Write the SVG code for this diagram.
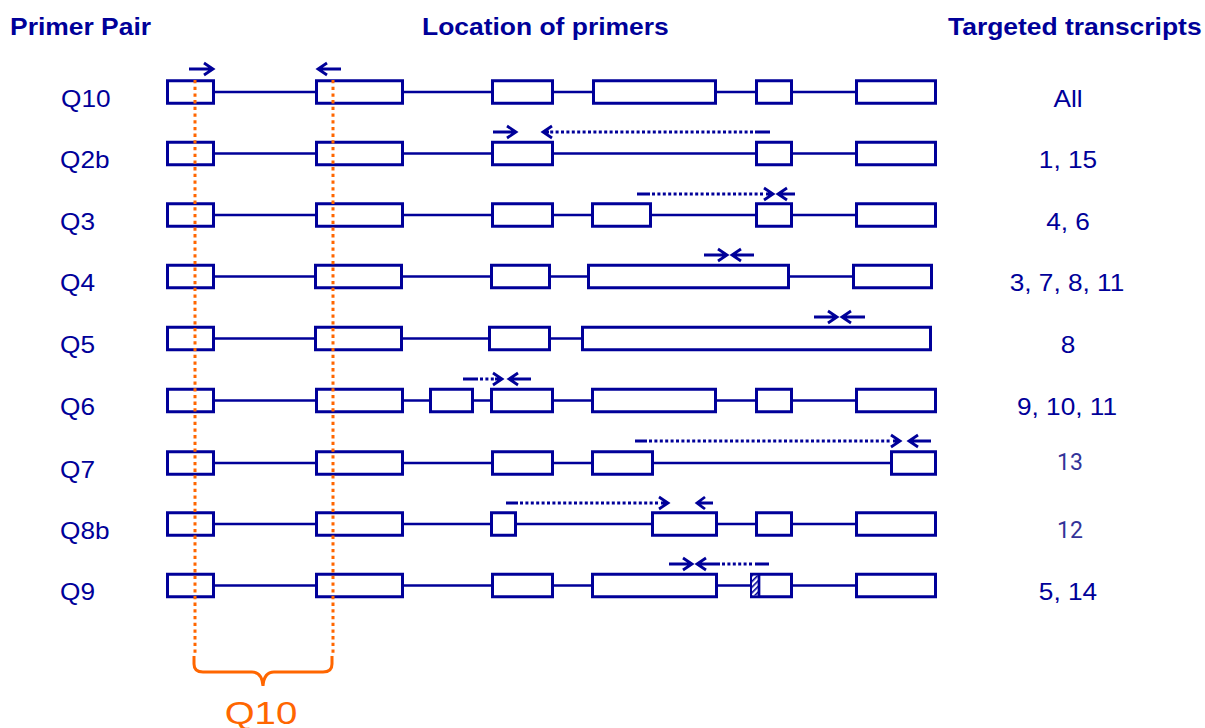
<svg xmlns="http://www.w3.org/2000/svg" width="1205" height="728" viewBox="0 0 1205 728">
  <defs>
    <style>
      .exon { fill: #ffffff; stroke: #000099; stroke-width: 3; }
      .intron { fill: none; stroke: #000099; stroke-width: 2.7; }
      .primer { fill: none; stroke: #000099; stroke-width: 2.8; }
      .dots { fill: none; stroke: #000099; stroke-width: 2.8; stroke-dasharray: 3 2.4; }
      .lbl { font-family: "Liberation Sans", Arial, sans-serif; font-size: 23px; fill: #000099; }
      .hdr { font-weight: bold; }
      .num { font-family: Roboto, "Liberation Sans", sans-serif; font-size: 23px; fill: #333399; }
      .span { fill: none; stroke: #ff6600; stroke-width: 3; }
      .guide { fill: none; stroke: #ff6600; stroke-width: 3; stroke-dasharray: 3.3 3.4; }
    </style>
    <pattern id="hatch" patternUnits="userSpaceOnUse" width="4" height="4" patternTransform="rotate(45)">
      <rect width="4" height="4" fill="#ffffff"/>
      <rect width="1.6" height="4" fill="#000099"/>
    </pattern>
  </defs>

  <rect width="1205" height="728" fill="#ffffff"/>

  <!-- column headers -->
  <g id="headers">
    <text class="lbl hdr" transform="translate(10,35) scale(1.15,1)">Primer Pair</text>
    <text class="lbl hdr" transform="translate(422,35) scale(1.15,1)">Location of primers</text>
    <text class="lbl hdr" transform="translate(948,35) scale(1.15,1)">Targeted transcripts</text>
  </g>

  <!-- gene models, one per primer pair -->
  <g id="row-q10" transform="translate(0,92)">
    <line class="intron" x1="215" y1="0" x2="855" y2="0"/>
    <rect class="exon" x="167.5" y="-11.25" width="46" height="22.5"/>
    <rect class="exon" x="316.5" y="-11.25" width="86" height="22.5"/>
    <rect class="exon" x="492.5" y="-11.25" width="60" height="22.5"/>
    <rect class="exon" x="593.5" y="-11.25" width="122" height="22.5"/>
    <rect class="exon" x="756.5" y="-11.25" width="35" height="22.5"/>
    <rect class="exon" x="856.5" y="-11.25" width="79" height="22.5"/>
    <text class="lbl" transform="translate(61,14.5) scale(1.14,1)">Q10</text>
    <text class="lbl" text-anchor="middle" transform="translate(1068,14.5) scale(1.14,1)">All</text>
  </g>

  <g id="row-q2b" transform="translate(0,153.5)">
    <line class="intron" x1="215" y1="0" x2="855" y2="0"/>
    <rect class="exon" x="167.5" y="-11.25" width="46" height="22.5"/>
    <rect class="exon" x="316.5" y="-11.25" width="86" height="22.5"/>
    <rect class="exon" x="492.5" y="-11.25" width="60" height="22.5"/>
    <rect class="exon" x="756.5" y="-11.25" width="35" height="22.5"/>
    <rect class="exon" x="856.5" y="-11.25" width="79" height="22.5"/>
    <text class="lbl" transform="translate(60,14.5) scale(1.14,1)">Q2b</text>
    <text class="lbl" text-anchor="middle" transform="translate(1068,14.5) scale(1.14,1)">1, 15</text>
  </g>

  <g id="row-q3" transform="translate(0,215)">
    <line class="intron" x1="215" y1="0" x2="855" y2="0"/>
    <rect class="exon" x="167.5" y="-11.25" width="46" height="22.5"/>
    <rect class="exon" x="316.5" y="-11.25" width="86" height="22.5"/>
    <rect class="exon" x="492.5" y="-11.25" width="60" height="22.5"/>
    <rect class="exon" x="592.5" y="-11.25" width="58" height="22.5"/>
    <rect class="exon" x="756.5" y="-11.25" width="35" height="22.5"/>
    <rect class="exon" x="856.5" y="-11.25" width="79" height="22.5"/>
    <text class="lbl" transform="translate(60,14.5) scale(1.14,1)">Q3</text>
    <text class="lbl" text-anchor="middle" transform="translate(1068,14.5) scale(1.14,1)">4, 6</text>
  </g>

  <g id="row-q4" transform="translate(0,276.5)">
    <line class="intron" x1="215" y1="0" x2="852" y2="0"/>
    <rect class="exon" x="167.5" y="-11.25" width="46" height="22.5"/>
    <rect class="exon" x="315.5" y="-11.25" width="86" height="22.5"/>
    <rect class="exon" x="491.5" y="-11.25" width="58" height="22.5"/>
    <rect class="exon" x="588.5" y="-11.25" width="200" height="22.5"/>
    <rect class="exon" x="853.5" y="-11.25" width="78" height="22.5"/>
    <text class="lbl" transform="translate(60,14.5) scale(1.14,1)">Q4</text>
    <text class="lbl" text-anchor="middle" transform="translate(1067,14.5) scale(1.14,1)">3, 7, 8, 11</text>
  </g>

  <g id="row-q5" transform="translate(0,338.5)">
    <line class="intron" x1="215" y1="0" x2="581" y2="0"/>
    <rect class="exon" x="167.5" y="-11.25" width="46" height="22.5"/>
    <rect class="exon" x="315.5" y="-11.25" width="86" height="22.5"/>
    <rect class="exon" x="489.5" y="-11.25" width="60" height="22.5"/>
    <rect class="exon" x="582.5" y="-11.25" width="348" height="22.5"/>
    <text class="lbl" transform="translate(60,14.5) scale(1.14,1)">Q5</text>
    <text class="lbl" text-anchor="middle" transform="translate(1068,14.5) scale(1.14,1)">8</text>
  </g>

  <g id="row-q6" transform="translate(0,400.5)">
    <line class="intron" x1="215" y1="0" x2="855" y2="0"/>
    <rect class="exon" x="167.5" y="-11.25" width="46" height="22.5"/>
    <rect class="exon" x="316.5" y="-11.25" width="86" height="22.5"/>
    <rect class="exon" x="430.5" y="-11.25" width="42" height="22.5"/>
    <rect class="exon" x="491.5" y="-11.25" width="61" height="22.5"/>
    <rect class="exon" x="592.5" y="-11.25" width="123" height="22.5"/>
    <rect class="exon" x="756.5" y="-11.25" width="35" height="22.5"/>
    <rect class="exon" x="856.5" y="-11.25" width="79" height="22.5"/>
    <text class="lbl" transform="translate(60,14.5) scale(1.14,1)">Q6</text>
    <text class="lbl" text-anchor="middle" transform="translate(1067,14.5) scale(1.14,1)">9, 10, 11</text>
  </g>

  <g id="row-q7" transform="translate(0,463)">
    <line class="intron" x1="215" y1="0" x2="890" y2="0"/>
    <rect class="exon" x="167.5" y="-11.25" width="46" height="22.5"/>
    <rect class="exon" x="316.5" y="-11.25" width="86" height="22.5"/>
    <rect class="exon" x="492.5" y="-11.25" width="60" height="22.5"/>
    <rect class="exon" x="592.5" y="-11.25" width="60" height="22.5"/>
    <rect class="exon" x="891.5" y="-11.25" width="44" height="22.5"/>
    <text class="lbl" transform="translate(60,14.5) scale(1.14,1)">Q7</text>
    <text class="num" text-anchor="middle" x="1070" y="7">13</text>
  </g>

  <g id="row-q8b" transform="translate(0,524)">
    <line class="intron" x1="215" y1="0" x2="855" y2="0"/>
    <rect class="exon" x="167.5" y="-11.25" width="46" height="22.5"/>
    <rect class="exon" x="316.5" y="-11.25" width="86" height="22.5"/>
    <rect class="exon" x="491.5" y="-11.25" width="24" height="22.5"/>
    <rect class="exon" x="652.5" y="-11.25" width="64" height="22.5"/>
    <rect class="exon" x="756.5" y="-11.25" width="35" height="22.5"/>
    <rect class="exon" x="856.5" y="-11.25" width="79" height="22.5"/>
    <text class="lbl" transform="translate(60,14.5) scale(1.14,1)">Q8b</text>
    <text class="num" text-anchor="middle" x="1070" y="14">12</text>
  </g>

  <g id="row-q9" transform="translate(0,585.5)">
    <line class="intron" x1="215" y1="0" x2="855" y2="0"/>
    <rect class="exon" x="167.5" y="-11.25" width="46" height="22.5"/>
    <rect class="exon" x="316.5" y="-11.25" width="86" height="22.5"/>
    <rect class="exon" x="492.5" y="-11.25" width="60" height="22.5"/>
    <rect class="exon" x="592.5" y="-11.25" width="124" height="22.5"/>
    <rect class="exon" x="751.5" y="-11.25" width="40" height="22.5"/>
    <rect x="752" y="-9.75" width="6" height="19.5" fill="url(#hatch)"/>
    <line class="intron" x1="759" y1="-11" x2="759" y2="11"/>
    <rect class="exon" x="856.5" y="-11.25" width="79" height="22.5"/>
    <text class="lbl" transform="translate(60,14.5) scale(1.14,1)">Q9</text>
    <text class="lbl" text-anchor="middle" transform="translate(1068,14.5) scale(1.14,1)">5, 14</text>
  </g>

  <!-- primer arrows and amplified spans -->
  <g id="connectors">
    <!-- Q10 -->
    <path class="primer" d="M189 69 H213 M204 63 L213 69 L204 75"/>
    <path class="primer" d="M341 69 H318 M327 63 L318 69 L327 75"/>
    <!-- Q2b -->
    <path class="primer" d="M493 132 H516 M507 126 L516 132 L507 138"/>
    <path class="primer" d="M770 132 H755 M549 132 H543 M552 126 L543 132 L552 138"/>
    <path class="dots" d="M753 132 H550"/>
    <!-- Q3 -->
    <path class="primer" d="M637 194 H650 M773 194 H766 M764 188 L773 194 L764 200"/>
    <path class="dots" d="M652 194 H765"/>
    <path class="primer" d="M795 194 H778 M787 188 L778 194 L787 200"/>
    <!-- Q4 -->
    <path class="primer" d="M704 255 H727 M718 249 L727 255 L718 261"/>
    <path class="primer" d="M754 255 H732 M741 249 L732 255 L741 261"/>
    <!-- Q5 -->
    <path class="primer" d="M814 317 H837 M828 311 L837 317 L828 323"/>
    <path class="primer" d="M865 317 H842 M851 311 L842 317 L851 323"/>
    <!-- Q6 -->
    <path class="primer" d="M463 379 H478 M502 379 H495 M493 373 L502 379 L493 385"/>
    <path class="dots" d="M480 379 H494"/>
    <path class="primer" d="M531 379 H509 M518 373 L509 379 L518 385"/>
    <!-- Q7 -->
    <path class="primer" d="M635 441 H647 M900 441 H893 M891 435 L900 441 L891 447"/>
    <path class="dots" d="M649 441 H892"/>
    <path class="primer" d="M931 441 H909 M918 435 L909 441 L918 447"/>
    <!-- Q8b -->
    <path class="primer" d="M506 503 H518 M668 503 H661 M659 497 L668 503 L659 509"/>
    <path class="dots" d="M520 503 H660"/>
    <path class="primer" d="M713 503 H697 M705 497 L697 503 L705 509"/>
    <!-- Q9 -->
    <path class="primer" d="M669 564 H692 M683 558 L692 564 L683 570"/>
    <path class="primer" d="M769 564 H755 M720 564 H697 M706 558 L697 564 L706 570"/>
    <path class="dots" d="M722 564 H753"/>
  </g>

  <!-- Q10 amplicon guides and bracket -->
  <g id="q10-span">
    <line class="guide" x1="195" y1="80" x2="195" y2="656"/>
    <line class="guide" x1="333" y1="80" x2="333" y2="656"/>
    <path class="span" d="M194 656 V664 Q194 672 203 672 H252 Q262 672 263 686 Q264 672 274 672 H323 Q332 672 332 664 V656"/>
    <text class="lbl" text-anchor="middle" transform="translate(261,724) scale(1.2,1)" style="font-size:32px; fill:#ff6600;">Q10</text>
  </g>
</svg>
